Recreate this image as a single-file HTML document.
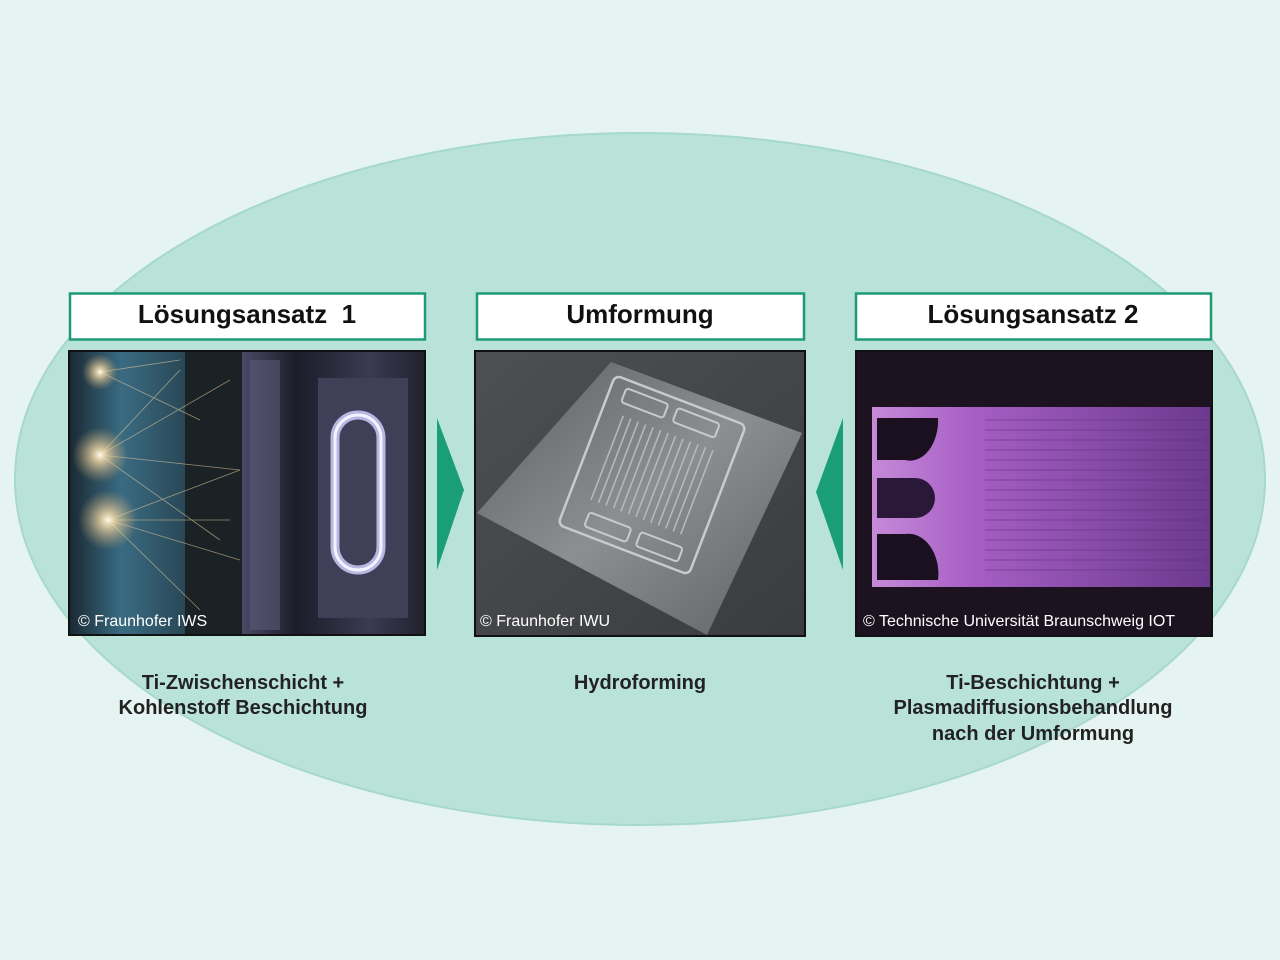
<!DOCTYPE html>
<html><head><meta charset="utf-8"><style>
html,body{margin:0;padding:0;background:#e5f4f0;}
svg{display:block;}
text{font-family:"Liberation Sans","DejaVu Sans",sans-serif;}
</style></head><body>
<svg width="1280" height="960" viewBox="0 0 1280 960" xmlns="http://www.w3.org/2000/svg">
<defs>
<linearGradient id="bl" x1="0" y1="0" x2="1" y2="0"><stop offset="0" stop-color="#1a2a33"/><stop offset="0.3" stop-color="#3a6b82"/><stop offset="0.8" stop-color="#233b47"/></linearGradient>
<radialGradient id="spark" cx="0.5" cy="0.5" r="0.5"><stop offset="0" stop-color="#fffbe8"/><stop offset="0.25" stop-color="#f3d9a6" stop-opacity="0.8"/><stop offset="1" stop-color="#c9a26a" stop-opacity="0"/></radialGradient>
<linearGradient id="rt" x1="0" y1="0" x2="1" y2="0"><stop offset="0" stop-color="#4a4a66"/><stop offset="0.3" stop-color="#1c1c2a"/><stop offset="0.7" stop-color="#3a3a52"/><stop offset="1" stop-color="#22222e"/></linearGradient>
<linearGradient id="slate" x1="0" y1="0" x2="1" y2="1"><stop offset="0" stop-color="#4d4f52"/><stop offset="1" stop-color="#3a3c3e"/></linearGradient>
<linearGradient id="plate" x1="0" y1="0" x2="1" y2="1"><stop offset="0" stop-color="#5b5d60"/><stop offset="0.5" stop-color="#8c8e91"/><stop offset="1" stop-color="#5e6063"/></linearGradient>
<linearGradient id="purp" x1="0" y1="0" x2="1" y2="0"><stop offset="0" stop-color="#c68ad8"/><stop offset="0.3" stop-color="#a65ec4"/><stop offset="1" stop-color="#6b3a8e"/></linearGradient>
</defs>
<rect width="1280" height="960" fill="#e5f4f0"/>
<ellipse cx="640" cy="479" rx="625" ry="346" fill="#b9e3d9" stroke="#a6d8cc" stroke-width="2"/>

<rect x="70" y="293.5" width="355" height="46" fill="#fff" stroke="#1d9b78" stroke-width="2.5"/>
<rect x="477" y="293.5" width="327" height="46" fill="#fff" stroke="#1d9b78" stroke-width="2.5"/>
<rect x="856" y="293.5" width="355" height="46" fill="#fff" stroke="#1d9b78" stroke-width="2.5"/>
<text x="247" y="323" font-size="26" font-weight="bold" text-anchor="middle" fill="#111" xml:space="preserve">Lösungsansatz  1</text>
<text x="640" y="323" font-size="26" font-weight="bold" text-anchor="middle" fill="#111">Umformung</text>
<text x="1033" y="323" font-size="26" font-weight="bold" text-anchor="middle" fill="#111">Lösungsansatz 2</text>

<g>
<rect x="68" y="350" width="358" height="286" fill="#111"/>
<rect x="70" y="352" width="172" height="282" fill="url(#bl)"/>
<rect x="185" y="352" width="57" height="282" fill="#1b2226"/>
<g stroke="#e9cf9f" stroke-width="0.8" opacity="0.6">
<line x1="100" y1="455" x2="230" y2="380"/><line x1="100" y1="455" x2="240" y2="470"/><line x1="100" y1="455" x2="220" y2="540"/><line x1="100" y1="455" x2="180" y2="370"/>
<line x1="108" y1="520" x2="240" y2="470"/><line x1="108" y1="520" x2="240" y2="560"/><line x1="108" y1="520" x2="200" y2="610"/><line x1="108" y1="520" x2="230" y2="520"/>
<line x1="100" y1="372" x2="200" y2="420"/><line x1="100" y1="372" x2="180" y2="360"/>
</g>
<circle cx="100" cy="455" r="28" fill="url(#spark)"/>
<circle cx="108" cy="520" r="30" fill="url(#spark)"/>
<circle cx="100" cy="372" r="18" fill="url(#spark)"/>
<rect x="242" y="352" width="182" height="282" fill="url(#rt)"/>
<rect x="250" y="360" width="30" height="270" fill="#5a5a78" opacity="0.6"/>
<rect x="318" y="378" width="90" height="240" fill="#3f3f58"/>
<rect x="335" y="415" width="46" height="155" rx="23" fill="none" stroke="#c7c3f2" stroke-width="9" opacity="0.9"/>
<rect x="335" y="415" width="46" height="155" rx="23" fill="none" stroke="#f4f2ff" stroke-width="3"/>
<text x="78" y="626" font-size="16" fill="#fff">© Fraunhofer IWS</text>
</g>

<g>
<rect x="474" y="350" width="332" height="287" fill="#111"/>
<rect x="476" y="352" width="328" height="283" fill="url(#slate)"/>
<polygon points="611,362 802,433 707,635 477,513" fill="url(#plate)"/>
<g transform="translate(652,475) rotate(21)">
<rect x="-70" y="-80" width="140" height="160" rx="6" fill="none" stroke="#c8cacc" stroke-width="2.5"/>
<g stroke="#b8babc" stroke-width="1.5">
<line x1="-48" y1="-45" x2="-48" y2="45"/><line x1="-40" y1="-45" x2="-40" y2="45"/><line x1="-32" y1="-45" x2="-32" y2="45"/><line x1="-24" y1="-45" x2="-24" y2="45"/><line x1="-16" y1="-45" x2="-16" y2="45"/><line x1="-8" y1="-45" x2="-8" y2="45"/><line x1="0" y1="-45" x2="0" y2="45"/><line x1="8" y1="-45" x2="8" y2="45"/><line x1="16" y1="-45" x2="16" y2="45"/><line x1="24" y1="-45" x2="24" y2="45"/><line x1="32" y1="-45" x2="32" y2="45"/><line x1="40" y1="-45" x2="40" y2="45"/><line x1="48" y1="-45" x2="48" y2="45"/>
</g>
<rect x="-55" y="-72" width="45" height="15" rx="3" fill="none" stroke="#c8cacc" stroke-width="2"/>
<rect x="0" y="-72" width="45" height="15" rx="3" fill="none" stroke="#c8cacc" stroke-width="2"/>
<rect x="-45" y="57" width="45" height="15" rx="3" fill="none" stroke="#c8cacc" stroke-width="2"/>
<rect x="10" y="57" width="45" height="15" rx="3" fill="none" stroke="#c8cacc" stroke-width="2"/>
</g>
<text x="480" y="626" font-size="16" fill="#fff">© Fraunhofer IWU</text>
</g>

<g>
<rect x="855" y="350" width="358" height="287" fill="#111"/>
<rect x="857" y="352" width="354" height="283" fill="#1c1220"/>
<rect x="872" y="407" width="338" height="180" fill="url(#purp)"/>
<g stroke="#5a2f78" stroke-width="0.8" opacity="0.7">
<line x1="985" y1="420" x2="1210" y2="420"/><line x1="985" y1="430" x2="1210" y2="430"/><line x1="985" y1="440" x2="1210" y2="440"/><line x1="985" y1="450" x2="1210" y2="450"/><line x1="985" y1="460" x2="1210" y2="460"/><line x1="985" y1="470" x2="1210" y2="470"/><line x1="985" y1="480" x2="1210" y2="480"/><line x1="985" y1="490" x2="1210" y2="490"/><line x1="985" y1="500" x2="1210" y2="500"/><line x1="985" y1="510" x2="1210" y2="510"/><line x1="985" y1="520" x2="1210" y2="520"/><line x1="985" y1="530" x2="1210" y2="530"/><line x1="985" y1="540" x2="1210" y2="540"/><line x1="985" y1="550" x2="1210" y2="550"/><line x1="985" y1="560" x2="1210" y2="560"/><line x1="985" y1="570" x2="1210" y2="570"/>
</g>
<path d="M877,418 H938 A 28 40 0 0 1 905,460 H877 Z" fill="#1a1020"/>
<path d="M877,478 H915 A 20 20 0 0 1 915,518 H877 Z" fill="#2a1838"/>
<path d="M877,534 H905 A 30 40 0 0 1 938,580 H877 Z" fill="#1a1020"/>
<text x="863" y="626" font-size="16" fill="#fff">© Technische Universität Braunschweig IOT</text>
</g>

<polygon points="437,418 464,490 437,570" fill="#1a9e78"/>
<polygon points="843,418 816,492 843,570" fill="#1a9e78"/>

<g font-size="20" font-weight="bold" fill="#222" text-anchor="middle">
<text x="243" y="689">Ti-Zwischenschicht +</text>
<text x="243" y="714">Kohlenstoff Beschichtung</text>
<text x="640" y="689">Hydroforming</text>
<text x="1033" y="689">Ti-Beschichtung +</text>
<text x="1033" y="714">Plasmadiffusionsbehandlung</text>
<text x="1033" y="740">nach der Umformung</text>
</g>
</svg>
</body></html>
